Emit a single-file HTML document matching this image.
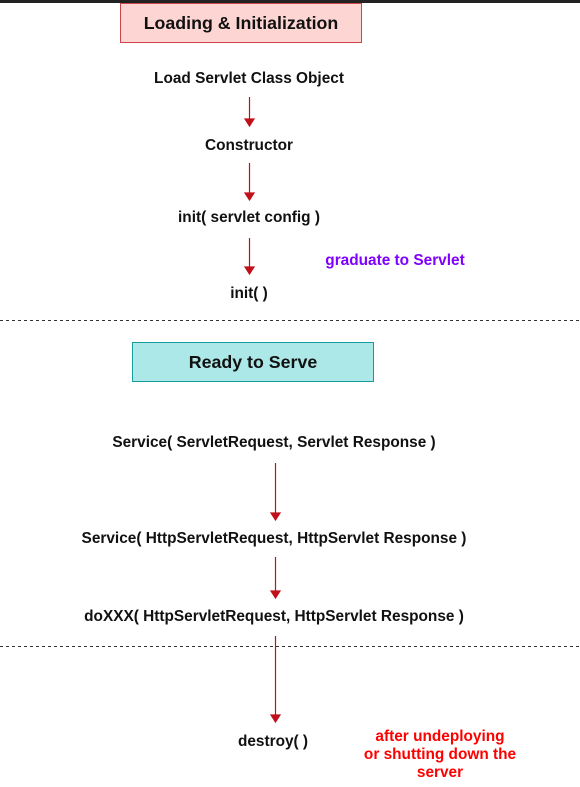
<!DOCTYPE html>
<html><head><style>
body{margin:0;width:580px;height:787px;background:#fff;overflow:hidden;position:relative;font-family:"Liberation Sans",Arial,sans-serif;font-weight:bold}
.t{position:absolute;white-space:nowrap;transform:translate(-50%,-50%);font-size:15.4px;color:#111}
.box{position:absolute;box-sizing:border-box;display:flex;align-items:center;justify-content:center;font-size:17.8px;color:#111}
</style></head><body>
<div style="position:absolute;left:0;top:0;width:580px;height:3px;background:#222"></div>
<div class="box" style="left:120px;top:3px;width:242px;height:40px;background:#fdd6d4;border:1px solid #c9474b">Loading &amp; Initialization</div>
<div class="box" style="left:132px;top:342px;width:242px;height:40px;background:#ade8e8;border:1px solid #1a9a9a">Ready to Serve</div>
<div class="t" style="left:249px;top:79px">Load Servlet Class Object</div>
<div class="t" style="left:249px;top:146px">Constructor</div>
<div class="t" style="left:249px;top:218px">init( servlet config )</div>
<div class="t" style="left:249px;top:294px">init( )</div>
<div class="t" style="left:395px;top:261px;color:#7f00ff">graduate to Servlet</div>
<div class="t" style="left:274px;top:443px">Service( ServletRequest, Servlet Response )</div>
<div class="t" style="left:274px;top:539px">Service( HttpServletRequest, HttpServlet Response )</div>
<div class="t" style="left:274px;top:617px">doXXX( HttpServletRequest, HttpServlet Response )</div>
<div class="t" style="left:273px;top:742px">destroy( )</div>
<div class="t" style="left:440px;top:755px;color:#ff0000;text-align:center;line-height:18px">after undeploying<br>or shutting down the<br>server</div>
<svg width="580" height="787" style="position:absolute;left:0;top:0">
<g stroke="#333" stroke-dasharray="3,3" stroke-width="1">
<line x1="0" y1="320.5" x2="580" y2="320.5"/>
<line x1="0" y1="646.5" x2="580" y2="646.5"/>
</g>
<g stroke="#c0101a" stroke-width="1.2" fill="#c0101a">
<line x1="249.5" y1="97" x2="249.5" y2="120"/><polygon points="245,119 254,119 249.5,126"/>
<line x1="249.5" y1="163" x2="249.5" y2="194"/><polygon points="245,193 254,193 249.5,200"/>
<line x1="249.5" y1="238" x2="249.5" y2="268"/><polygon points="245,267 254,267 249.5,274"/>
<line x1="275.5" y1="463" x2="275.5" y2="514"/><polygon points="271,513 280,513 275.5,520"/>
<line x1="275.5" y1="557" x2="275.5" y2="592"/><polygon points="271,591 280,591 275.5,598"/>
<line x1="275.5" y1="636" x2="275.5" y2="716"/><polygon points="271,715 280,715 275.5,722"/>
</g>
</svg>
</body></html>
